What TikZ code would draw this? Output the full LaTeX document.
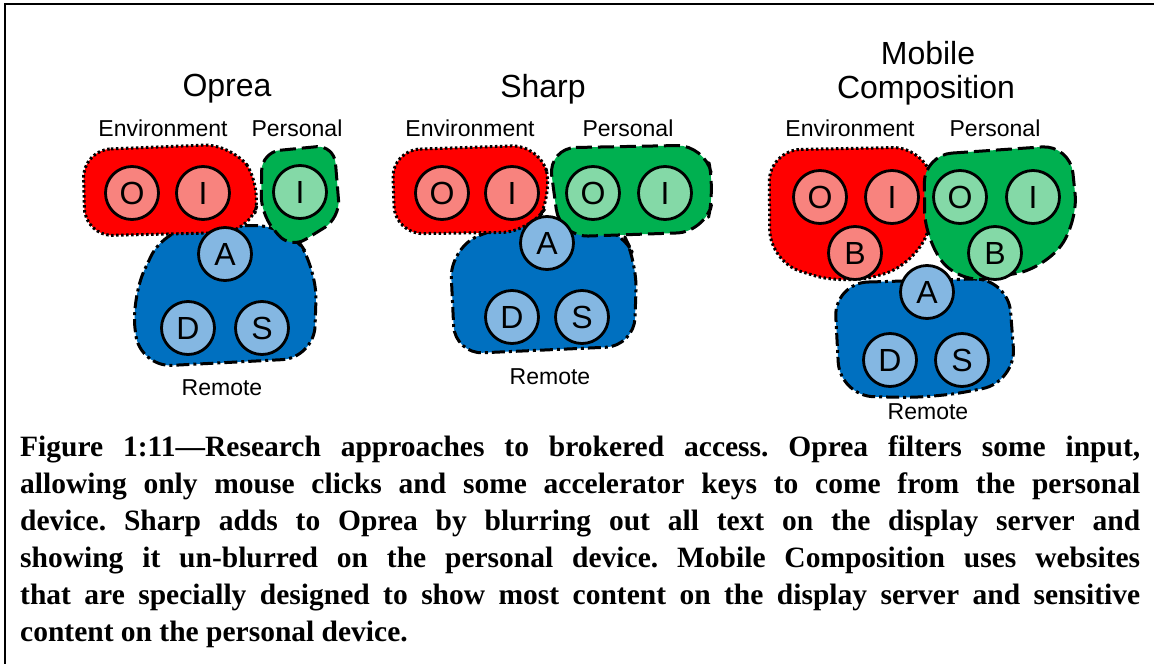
\documentclass[tikz,border=0pt]{standalone}
\usepackage{fontspec}
\setmainfont{Liberation Serif}
\newfontfamily\arialf{Liberation Sans}
\definecolor{envred}{HTML}{FF0000}
\definecolor{envcirc}{HTML}{F8837E}
\definecolor{pergreen}{HTML}{00B050}
\definecolor{percirc}{HTML}{84D9A7}
\definecolor{remblue}{HTML}{0070C0}
\definecolor{remcirc}{HTML}{84B7E2}
\begin{document}
\begin{tikzpicture}[x=1pt,y=-1pt,
  blob/.style={line width=3pt, rounded corners=28pt, line join=round},
  envblob/.style={blob, fill=envred, dash pattern=on 2.5pt off 2.5pt},
  perblob/.style={blob, fill=pergreen, dash pattern=on 16pt off 6pt},
  remblob/.style={blob, fill=remblue, dash pattern=on 13pt off 4pt on 3pt off 4pt},
  comp/.style={circle, draw=black, line width=2.8pt, minimum size=53pt, inner sep=0pt,
    font=\arialf\fontsize{32}{32}\selectfont},
  envc/.style={comp, fill=envcirc},
  perc/.style={comp, fill=percirc},
  remc/.style={comp, fill=remcirc},
  title/.style={font=\arialf\fontsize{32}{38}\selectfont, inner sep=0pt},
  lbl/.style={font=\arialf\fontsize{23}{27}\selectfont, inner sep=0pt},
  frameline/.style={line width=2pt, line cap=butt}
]
\useasboundingbox (0,0) rectangle (1154,664);
\coordinate (ftl) at (5,4);
\coordinate (ftr) at (1154,4);
\coordinate (fbl) at (5,664);
\draw[frameline] (fbl) -- (ftl) -- (ftr);

% ---------- Oprea ----------
\draw[remblob, rounded corners=32pt] (165,227) -- (287,225) -- (317,268) -- (314,358) -- (140,367) -- (131,298) -- cycle;
\draw[envblob] (83,150) -- (232,144) -- (262,186) -- (250,232) -- (85,236) -- cycle;
\draw[perblob, rounded corners=18pt] (262,152) -- (334,145) -- (340,218) -- (290,249) -- (261,214) -- cycle;
\node[title] (ot) at (227,89) {Oprea};
\node[lbl] (oenv) at (163,128) {Environment};
\node[lbl] (oper) at (297,128) {Personal};
\node[envc] (oeo) at (132,193) {O};
\node[envc] (oei) at (203,193) {I};
\node[perc] (opi) at (300,192) {I};
\node[remc] (ora) at (225,254) {A};
\node[remc] (ord) at (188,328) {D};
\node[remc] (ors) at (262,328) {S};
\node[lbl] (orem) at (222,388) {Remote};

% ---------- Sharp ----------
\draw[remblob] (500,225) -- (620,227) -- (637,262) -- (634,346) -- (455,354) -- (450,250) -- cycle;
\draw[envblob] (392,150) -- (540,145) -- (553,196) -- (530,232) -- (395,234) -- cycle;
\draw[perblob] (548,148) -- (705,145) -- (715,190) -- (705,232) -- (560,237) -- cycle;
\node[title] (st) at (543,89) {Sharp};
\node[lbl] (senv) at (470,128) {Environment};
\node[lbl] (sper) at (628,128) {Personal};
\node[envc] (seo) at (442,193) {O};
\node[envc] (sei) at (512,193) {I};
\node[perc] (spo) at (593,193) {O};
\node[perc] (spi) at (665,193) {I};
\node[remc] (sra) at (547,243) {A};
\node[remc] (srd) at (512,317) {D};
\node[remc] (srs) at (582,317) {S};
\node[lbl] (srem) at (550,377) {Remote};

% ---------- Mobile Composition ----------
\draw[remblob, rounded corners=34pt] (834,283) -- (1008,278) -- (1016,382) -- (935,398) -- (840,396) -- cycle;
\draw[envblob, rounded corners=32pt] (769,150) -- (925,147) -- (938,205) -- (915,265) -- (845,285) -- (770,262) -- cycle;
\draw[perblob] (924,155) -- (1070,145) -- (1078,222) -- (1045,268) -- (960,284) -- (925,240) -- cycle;
\node[title] (mt1) at (928,53) {Mobile};
\node[title] (mt2) at (926,90) {Composition};
\node[lbl] (menv) at (850,128) {Environment};
\node[lbl] (mper) at (995,128) {Personal};
\node[envc] (meo) at (820,197) {O};
\node[envc] (mei) at (892,197) {I};
\node[envc] (meb) at (855,253) {B};
\node[perc] (mpo) at (960,197) {O};
\node[perc] (mpi) at (1033,197) {I};
\node[perc] (mpb) at (995,253) {B};
\node[remc] (mra) at (927,292) {A};
\node[remc] (mrd) at (890,360) {D};
\node[remc] (mrs) at (962,360) {S};
\node[lbl] (mrem) at (928,412) {Remote};

% ---------- Caption ----------
\node[anchor=north west, inner sep=0pt, text width=1120pt, align=justify,
      font=\bfseries\fontsize{29.5}{37}\selectfont] (cap) at (20,436)
{\frenchspacing\hyphenpenalty=10000\exhyphenpenalty=10000
Figure 1:11---Research approaches to brokered access. Oprea filters some input,\linebreak
allowing only mouse clicks and some accelerator keys to come from the personal\linebreak
device. Sharp adds to Oprea by blurring out all text on the display server and\linebreak
showing it un-blurred on the personal device. Mobile Composition uses websites\linebreak
that are specially designed to show most content on the display server and sensitive\linebreak
content on the personal device.};
\end{tikzpicture}
\end{document}
